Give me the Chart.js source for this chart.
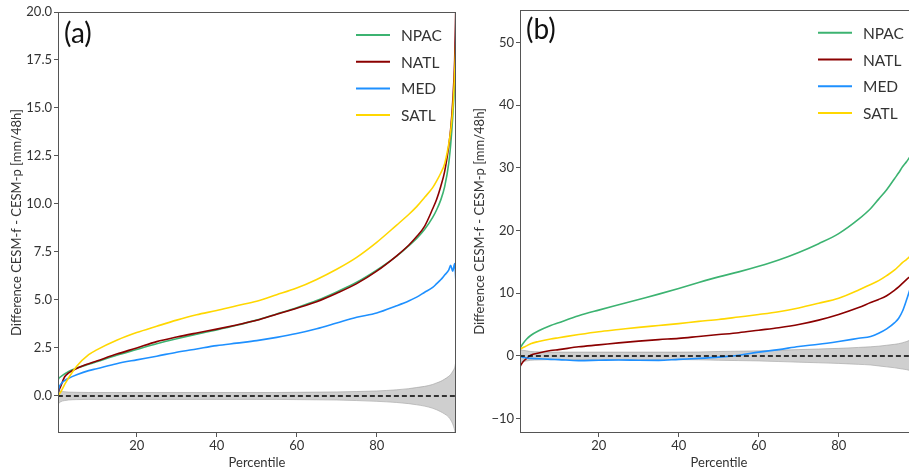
<!DOCTYPE html>
<html lang="en">
<head>
<meta charset="UTF-8">
<title>CESM-f - CESM-p</title>
<style>
  html, body { margin: 0; padding: 0; background: #fff; overflow: hidden; }
  #wrap { position: relative; width: 909px; height: 474px; overflow: hidden; }
  .panel { position: absolute; top: 0; height: 474px; }
  #panelA { left: 0; width: 463px; }
  #panelB { left: 463px; width: 462px; }
</style>
</head>
<body>
<div id="wrap">
  <div class="panel" id="panelA"><canvas id="chartA"></canvas></div>
  <div class="panel" id="panelB"><canvas id="chartB"></canvas></div>
</div>

<script src="https://cdn.jsdelivr.net/npm/chart.js"></script>
<script>
// categories / series names
const regions = ['NPAC', 'NATL', 'MED', 'SATL'];
const regionColors = ['#3cb371', '#8b0000', '#1e90ff', '#ffd700'];

// percentiles (x values) shared by both panels
const pct = [0.3, 0.5, 1, 2, 3, 5, 8, 10, 15, 20, 25, 30, 35, 40, 45, 50, 55, 60, 65, 70,
             75, 80, 85, 88, 90, 92, 94, 95, 96, 97, 98, 98.5, 99, 99.5, 99.8];

// panel (a)
const npacA = [0.8, 0.9, 1.0, 1.15, 1.28, 1.45, 1.65, 1.78, 2.12, 2.42, 2.72, 2.98, 3.22, 3.44, 3.68, 3.95, 4.27, 4.6, 4.97, 5.42,
               5.92, 6.55, 7.28, 7.82, 8.2, 8.68, 9.3, 9.7, 10.2, 10.9, 12.1, 13.1, 14.5, 16.4, 18.4];
const natlA = [0.1, 0.25, 0.5, 1.0, 1.2, 1.43, 1.68, 1.82, 2.18, 2.5, 2.83, 3.07, 3.28, 3.48, 3.7, 3.94, 4.26, 4.57, 4.91, 5.35,
               5.85, 6.5, 7.3, 7.85, 8.3, 8.85, 9.75, 10.25, 10.9, 11.7, 13.0, 13.9, 15.3, 17.5, 20.5];
const medA  = [-0.05, 0.35, 0.6, 0.8, 0.92, 1.1, 1.32, 1.42, 1.68, 1.88, 2.07, 2.28, 2.45, 2.62, 2.75, 2.88, 3.05, 3.25, 3.5, 3.8,
               4.1, 4.32, 4.7, 4.95, 5.15, 5.4, 5.65, 5.85, 6.05, 6.3, 6.55, 6.8, 6.5, 6.9, 6.0];
const satlA = [-0.05, 0.05, 0.2, 0.6, 0.95, 1.55, 2.15, 2.4, 2.9, 3.3, 3.63, 3.95, 4.23, 4.45, 4.7, 4.93, 5.27, 5.62, 6.07, 6.6,
               7.22, 8.0, 8.9, 9.45, 9.86, 10.35, 10.85, 11.2, 11.6, 12.1, 13.1, 13.8, 14.9, 16.8, 18.5];
const bandHiA = [0.35, 0.3, 0.25, 0.22, 0.2, 0.19, 0.18, 0.18, 0.18, 0.18, 0.18, 0.18, 0.18, 0.18, 0.18, 0.18, 0.18, 0.19, 0.2, 0.21,
                 0.23, 0.26, 0.32, 0.38, 0.44, 0.5, 0.6, 0.68, 0.76, 0.88, 1.02, 1.12, 1.28, 1.48, 1.8];
const bandLoA = [-0.5, -0.4, -0.3, -0.24, -0.21, -0.19, -0.18, -0.18, -0.18, -0.18, -0.18, -0.18, -0.18, -0.18, -0.18, -0.18, -0.18, -0.19, -0.2, -0.21,
                 -0.24, -0.28, -0.34, -0.4, -0.46, -0.53, -0.64, -0.72, -0.82, -0.94, -1.1, -1.25, -1.45, -1.8, -2.2];

// panel (b)
const npacB = [1.0, 1.4, 1.9, 2.7, 3.25, 4.0, 4.85, 5.3, 6.4, 7.3, 8.15, 9.0, 9.85, 10.75, 11.7, 12.6, 13.4, 14.3, 15.3, 16.5,
               17.9, 19.5, 21.8, 23.5, 25.0, 26.5, 28.3, 29.2, 30.2, 31.0, 32.0, 32.8, 34, 36, 38];
const natlB = [-1.8, -1.5, -1.0, -0.4, 0.1, 0.45, 0.85, 1.0, 1.45, 1.75, 2.07, 2.35, 2.6, 2.8, 3.1, 3.4, 3.7, 4.1, 4.5, 5.0,
               5.7, 6.6, 7.7, 8.5, 9.0, 9.6, 10.5, 11.0, 11.6, 12.2, 12.8, 13.3, 14, 15, 16];
const medB  = [-0.1, -0.15, -0.2, -0.35, -0.4, -0.45, -0.55, -0.6, -0.75, -0.7, -0.65, -0.7, -0.72, -0.55, -0.4, -0.2, 0.1, 0.6, 1.0, 1.5,
               1.85, 2.3, 2.8, 3.1, 3.6, 4.3, 5.3, 6.0, 7.2, 9.0, 11, 12, 13, 14.5, 16];
const satlB = [1.0, 1.1, 1.3, 1.6, 1.95, 2.3, 2.7, 2.9, 3.4, 3.85, 4.2, 4.55, 4.85, 5.15, 5.5, 5.8, 6.2, 6.6, 7.05, 7.65,
               8.4, 9.2, 10.5, 11.4, 12.0, 12.8, 13.7, 14.3, 14.9, 15.4, 16.0, 16.6, 17.5, 18.7, 20];
const bandHiB = [1.2, 1.0, 0.9, 0.8, 0.7, 0.65, 0.6, 0.6, 0.6, 0.6, 0.6, 0.6, 0.6, 0.6, 0.62, 0.7, 0.75, 0.8, 0.9, 1.0,
                 1.1, 1.2, 1.35, 1.45, 1.55, 1.7, 1.85, 1.95, 2.1, 2.3, 2.6, 2.9, 3.4, 4.5, 7];
const bandLoB = [-1.2, -1.0, -0.9, -0.8, -0.7, -0.65, -0.6, -0.6, -0.6, -0.6, -0.6, -0.6, -0.6, -0.6, -0.62, -0.7, -0.75, -0.8, -0.9, -1.0,
                 -1.1, -1.2, -1.35, -1.45, -1.6, -1.75, -1.9, -2.0, -2.1, -2.2, -2.4, -2.6, -3, -4, -6];

// tick labels
const xTicks = [20, 40, 60, 80];
const yTicksA = [0, 2.5, 5, 7.5, 10, 12.5, 15, 17.5, 20];
const yTicksB = [-10, 0, 10, 20, 30, 40, 50];

const FONT = 'Lato, "Open Sans", sans-serif';
const TXT = '#333';

function pts(v) {
    return pct.map((p, i) => ({x: p, y: v[i]}));
}

// box around the plot, legend in upper right, panel letter
const panelPlugin = {
    id: 'panelDeco',
    afterDraw(chart, args, opts) {
        const ctx = chart.ctx;
        const a = chart.chartArea;
        ctx.save();
        // frame
        ctx.strokeStyle = '#555';
        ctx.lineWidth = 1;
        ctx.strokeRect(Math.round(a.left) + 0.5, Math.round(a.top) + 0.5,
                       Math.round(a.right - a.left) - 1, Math.round(a.bottom - a.top) - 1);
        // panel letter
        ctx.fillStyle = '#111';
        ctx.font = '28px ' + FONT;
        ctx.textBaseline = 'middle';
        ctx.textAlign = 'left';
        ctx.fillText(opts.letter, a.left + 6, a.top + opts.letterDy);
        // legend
        const x0 = a.right - 100;
        ctx.font = '15.5px ' + FONT;
        ctx.lineWidth = 2;
        regions.forEach((name, i) => {
            const y = a.top + 23 + i * 26.7;
            ctx.strokeStyle = regionColors[i];
            ctx.beginPath();
            ctx.moveTo(x0, y);
            ctx.lineTo(x0 + 34, y);
            ctx.stroke();
            ctx.fillStyle = TXT;
            ctx.fillText(name, x0 + 45, y + 1);
        });
        ctx.restore();
    }
};

function makeChart(id, series, bandHi, bandLo, yMin, yMax, yTicks, yFmt, letter, letterDy, yWidth, padTop) {
    const datasets = [];
    // zero line
    datasets.push({
        data: pts(pct.map(() => 0)),
        borderColor: '#000', borderWidth: 1.5, borderDash: [5, 3],
        pointRadius: 0, order: 0
    });
    series.forEach((s, i) => {
        datasets.push({
            label: regions[i],
            data: pts(s),
            borderColor: regionColors[i], borderWidth: 1.6,
            pointRadius: 0, cubicInterpolationMode: 'monotone',
            order: 1 + (3 - i)
        });
    });
    // spread band
    datasets.push({
        data: pts(bandHi), borderColor: 'rgba(150,150,150,0.7)', borderWidth: 0.8,
        backgroundColor: 'rgba(175,175,175,0.6)', fill: '+1',
        pointRadius: 0, cubicInterpolationMode: 'monotone', order: 10
    });
    datasets.push({
        data: pts(bandLo), borderColor: 'rgba(150,150,150,0.7)', borderWidth: 0.8,
        pointRadius: 0, cubicInterpolationMode: 'monotone', order: 10
    });

    return new Chart(document.getElementById(id), {
        type: 'line',
        data: {datasets: datasets},
        plugins: [panelPlugin],
        options: {
            responsive: true,
            maintainAspectRatio: false,
            animation: false,
            layout: {padding: {top: padTop, right: 7, left: 0, bottom: 0}},
            plugins: {
                legend: {display: false},
                tooltip: {enabled: false},
                panelDeco: {letter: letter, letterDy: letterDy}
            },
            scales: {
                x: {
                    type: 'linear', min: 0.33, max: 99.83,
                    afterBuildTicks: (sc) => { sc.ticks = xTicks.map(v => ({value: v})); },
                    afterFit: (sc) => { sc.height = 41; },
                    grid: {drawOnChartArea: false, drawTicks: true, tickLength: 4, color: '#555'},
                    border: {display: false},
                    ticks: {color: TXT, font: {family: FONT, size: 13}, padding: 1, maxRotation: 0},
                    title: {display: true, text: 'Percentile', color: TXT,
                            font: {family: FONT, size: 13}, padding: {top: 0, bottom: 3}}
                },
                y: {
                    type: 'linear', min: yMin, max: yMax,
                    afterBuildTicks: (sc) => { sc.ticks = yTicks.map(v => ({value: v})); },
                    afterFit: (sc) => { sc.width = yWidth; },
                    grid: {drawOnChartArea: false, drawTicks: true, tickLength: 4, color: '#555'},
                    border: {display: false},
                    ticks: {color: TXT, font: {family: FONT, size: 13}, padding: 2, callback: yFmt},
                    title: {display: true, text: 'Difference CESM-f - CESM-p [mm/48h]', color: TXT,
                            font: {family: FONT, size: 13}, padding: {top: 9, bottom: 0}}
                }
            }
        }
    });
}

makeChart('chartA', [npacA, natlA, medA, satlA], bandHiA, bandLoA, -1.93, 20, yTicksA,
          v => v.toFixed(1), '(a)', 22, 58, 12);
makeChart('chartB', [npacB, natlB, medB, satlB], bandHiB, bandLoB, -12.3, 55.2, yTicksB,
          v => (v < 0 ? '\u2212' + Math.abs(v) : String(v)), '(b)', 20, 57, 9);
</script>
</body>
</html>
